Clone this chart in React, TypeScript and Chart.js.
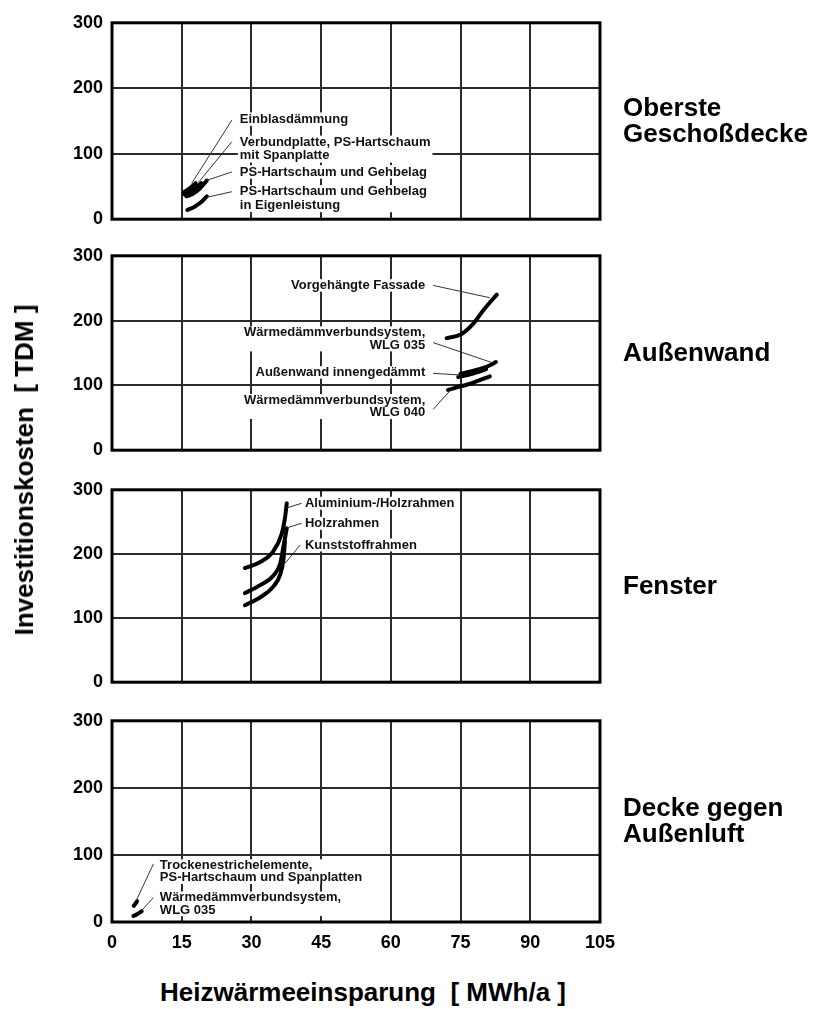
import React, { useEffect, useRef } from 'react';
import { Chart, registerables } from 'chart.js';

Chart.register(...registerables);

const FONT = '"Liberation Sans", Arial, Helvetica, sans-serif';

// ---------- axes ----------
const X_TICKS = [0, 15, 30, 45, 60, 75, 90, 105];
const Y_TICKS = [0, 100, 200, 300];
const X_TITLE = 'Heizwärmeeinsparung  [ MWh/a ]';
const Y_TITLE = 'Investitionskosten  [ TDM ]';

// ---------- panel names ----------
const P1_NAME = ['Oberste', 'Geschoßdecke'];
const P2_NAME = ['Außenwand'];
const P3_NAME = ['Fenster'];
const P4_NAME = ['Decke gegen', 'Außenluft'];

// ---------- panel 1: Oberste Geschoßdecke ----------
const EINBLAS_X = [15.4, 16.3, 17.2, 18.0];
const EINBLAS_Y = [41, 45, 50, 55];
const VERBUND_X = [15.6, 16.8, 18.0, 19.2];
const VERBUND_Y = [38, 42, 48, 55];
const PS_GEHBELAG_X = [16.0, 17.4, 18.9, 20.4];
const PS_GEHBELAG_Y = [35, 39, 47, 59];
const PS_EIGEN_X = [16.2, 17.5, 19.0, 20.4];
const PS_EIGEN_Y = [14, 18, 25, 35];

// ---------- panel 2: Außenwand ----------
const VORGEH_X = [72.0, 74.9, 77.7, 79.9, 82.8];
const VORGEH_Y = [173, 178, 195, 216, 240];
const WDVS035_X = [75.0, 77.0, 79.0, 81.0, 82.6];
const WDVS035_Y = [118, 121, 125, 130, 136];
const INNEN_X = [74.5, 76.5, 78.5, 80.5];
const INNEN_Y = [113, 116, 120, 125];
const WDVS040_X = [72.3, 74.2, 76.3, 78.7, 81.3];
const WDVS040_Y = [93, 97, 101, 107, 114];

// ---------- panel 3: Fenster ----------
const ALU_X = [28.6, 31.8, 34.7, 36.5, 37.2, 37.6];
const ALU_Y = [178, 187, 204, 231, 255, 279];
const HOLZ_X = [28.6, 31.8, 34.7, 36.2, 36.9, 37.6];
const HOLZ_Y = [139, 151, 166, 185, 212, 240];
const KUNST_X = [28.6, 31.8, 34.7, 36.2, 36.9, 37.2];
const KUNST_Y = [120, 132, 149, 168, 192, 219];

// ---------- panel 4: Decke gegen Außenluft ----------
const TROCKEN_X = [4.7, 5.0, 5.4];
const TROCKEN_Y = [24, 27, 31];
const WDVS035B_X = [4.6, 5.5, 6.4];
const WDVS035B_Y = [9, 12, 16];

const pts = (xs: number[], ys: number[]) => xs.map((x, i) => ({ x, y: ys[i] }));

type Annot = {
  lines: string[];
  at: [number, number];
  align: 'left' | 'right';
  from: [number, number];
  to: [number, number];
};

const PANELS = [
  {
    name: P1_NAME,
    top: 15,
    bottom: 227,
    series: [pts(EINBLAS_X, EINBLAS_Y), pts(VERBUND_X, VERBUND_Y), pts(PS_GEHBELAG_X, PS_GEHBELAG_Y), pts(PS_EIGEN_X, PS_EIGEN_Y)],
    lh: 13.5,
    annots: [
      { lines: ['Einblasdämmung'], at: [27.5, 152.8], align: 'left', from: [25.8, 151.4], to: [17.15, 54.8] },
      { lines: ['Verbundplatte, PS-Hartschaum', 'mit Spanplatte'], at: [27.5, 117.4], align: 'left', from: [25.8, 118.4], to: [18.6, 56.2] },
      { lines: ['PS-Hartschaum und Gehbelag'], at: [27.5, 72.2], align: 'left', from: [25.8, 72.2], to: [20.4, 59.4] },
      { lines: ['PS-Hartschaum und Gehbelag', 'in Eigenleistung'], at: [27.5, 41.7], align: 'left', from: [25.8, 42], to: [20.4, 33.5] },
    ] as Annot[],
  },
  {
    name: P2_NAME,
    top: 248,
    bottom: 458,
    series: [pts(VORGEH_X, VORGEH_Y), pts(WDVS035_X, WDVS035_Y), pts(INNEN_X, INNEN_Y), pts(WDVS040_X, WDVS040_Y)],
    lh: 12.5,
    annots: [
      { lines: ['Vorgehängte Fassade'], at: [67.4, 254.3], align: 'right', from: [69.1, 254.3], to: [81.3, 235.3] },
      { lines: ['Wärmedämmverbundsystem,', 'WLG 035'], at: [67.4, 181.4], align: 'right', from: [69.1, 166.1], to: [81.7, 135.3] },
      { lines: ['Außenwand innengedämmt'], at: [67.4, 120], align: 'right', from: [69.1, 118.6], to: [74.9, 116.1] },
      { lines: ['Wärmedämmverbundsystem,', 'WLG 040'], at: [67.4, 77.1], align: 'right', from: [69.1, 62.9], to: [73.1, 94.7] },
    ] as Annot[],
  },
  {
    name: P3_NAME,
    top: 482,
    bottom: 690,
    series: [pts(ALU_X, ALU_Y), pts(HOLZ_X, HOLZ_Y), pts(KUNST_X, KUNST_Y)],
    lh: 13,
    annots: [
      { lines: ['Aluminium-/Holzrahmen'], at: [41.5, 279], align: 'left', from: [40.8, 279], to: [37.6, 271.7] },
      { lines: ['Holzrahmen'], at: [41.5, 247.8], align: 'left', from: [40.8, 247.8], to: [37.6, 240.5] },
      { lines: ['Kunststoffrahmen'], at: [41.5, 214], align: 'left', from: [40.5, 214], to: [37.2, 185.1] },
    ] as Annot[],
  },
  {
    name: P4_NAME,
    top: 713,
    bottom: 922,
    series: [pts(TROCKEN_X, TROCKEN_Y), pts(WDVS035B_X, WDVS035B_Y)],
    lh: 12.3,
    annots: [
      { lines: ['Trockenestrichelemente,', 'PS-Hartschaum und Spanplatten'], at: [10.3, 84.2], align: 'left', from: [8.9, 86.5], to: [5.2, 31.6] },
      { lines: ['Wärmedämmverbundsystem,', 'WLG 035'], at: [10.3, 36.3], align: 'left', from: [8.9, 36.3], to: [6.4, 17.2] },
    ] as Annot[],
  },
];

const PAD_TOP = 12;
const PAD_BOTTOM = 12;
const X_AXIS_H = 50;
const PLOT_LEFT = 112;
const PLOT_RIGHT = 600;
const W = 814;

const panelPlugin = {
  id: 'panelDecor',
  afterDatasetsDraw(chart: any, _args: any, opts: any) {
    const { ctx, chartArea, scales } = chart;
    const xs = scales.x;
    const ys = scales.y;
    const annots: Annot[] = opts.annots || [];
    const lh: number = opts.lh || 13;
    ctx.save();
    ctx.font = `bold 13px ${FONT}`;
    ctx.textBaseline = 'middle';
    // white boxes
    const boxes = annots.map((a) => {
      const px = xs.getPixelForValue(a.at[0]);
      const py = ys.getPixelForValue(a.at[1]);
      const w = Math.max(...a.lines.map((l) => ctx.measureText(l).width));
      const left = a.align === 'left' ? px : px - w;
      return { a, px, py, w, left };
    });
    ctx.fillStyle = '#fff';
    boxes.forEach((b) => ctx.fillRect(b.left - 2, b.py - lh / 2, b.w + 4, lh * b.a.lines.length));
    // leader lines
    ctx.strokeStyle = '#333';
    ctx.lineWidth = 1;
    annots.forEach((a) => {
      ctx.beginPath();
      ctx.moveTo(xs.getPixelForValue(a.from[0]), ys.getPixelForValue(a.from[1]));
      ctx.lineTo(xs.getPixelForValue(a.to[0]), ys.getPixelForValue(a.to[1]));
      ctx.stroke();
    });
    // text
    ctx.fillStyle = '#111';
    boxes.forEach((b) => {
      ctx.textAlign = b.a.align;
      b.a.lines.forEach((l, i) => ctx.fillText(l, b.px, b.py + i * lh));
    });
    // frame
    ctx.strokeStyle = '#000';
    ctx.lineWidth = 3;
    ctx.strokeRect(chartArea.left, chartArea.top, chartArea.right - chartArea.left, chartArea.bottom - chartArea.top);
    // panel name
    const name: string[] = opts.name || [];
    ctx.font = `bold 26px ${FONT}`;
    ctx.textAlign = 'left';
    ctx.textBaseline = 'alphabetic';
    ctx.fillStyle = '#000';
    const cy = (chartArea.top + chartArea.bottom) / 2;
    const spacing = 26;
    name.forEach((l, i) => {
      ctx.fillText(l, chartArea.right + 23, cy - ((name.length - 1) * spacing) / 2 + i * spacing + 8);
    });
    ctx.restore();
  },
};

function Panel({ cfg, last }: { cfg: (typeof PANELS)[number]; last: boolean }) {
  const ref = useRef<HTMLCanvasElement>(null);
  const plotH = cfg.bottom - cfg.top;
  const height = PAD_TOP + plotH + (last ? X_AXIS_H : PAD_BOTTOM);
  useEffect(() => {
    if (!ref.current) return;
    const chart = new Chart(ref.current, {
      type: 'scatter',
      data: {
        datasets: cfg.series.map((s) => ({
          data: s,
          showLine: true,
          borderColor: '#000',
          backgroundColor: '#000',
          borderWidth: 4,
          borderCapStyle: 'round',
          pointRadius: 0,
          cubicInterpolationMode: 'monotone',
        })),
      },
      options: {
        animation: false,
        responsive: false,
        devicePixelRatio: 1,
        layout: {
          padding: { left: 0, right: W - PLOT_RIGHT, top: PAD_TOP, bottom: last ? 0 : PAD_BOTTOM },
        },
        plugins: {
          legend: { display: false },
          tooltip: { enabled: false },
          panelDecor: { annots: cfg.annots, lh: cfg.lh, name: cfg.name },
        } as any,
        scales: {
          x: {
            type: 'linear',
            min: 0,
            max: 105,
            afterBuildTicks: (s: any) => {
              s.ticks = X_TICKS.map((v) => ({ value: v }));
            },
            afterFit: (s: any) => {
              s.height = last ? X_AXIS_H : 0;
            },
            grid: { color: '#2a2a2a', lineWidth: 2, drawTicks: false },
            border: { display: false },
            ticks: {
              display: last,
              color: '#000',
              padding: 10,
              font: { family: FONT, size: 18, weight: 'bold' },
            },
          },
          y: {
            type: 'linear',
            min: 0,
            max: 300,
            afterBuildTicks: (s: any) => {
              s.ticks = Y_TICKS.map((v) => ({ value: v }));
            },
            afterFit: (s: any) => {
              s.width = PLOT_LEFT;
            },
            grid: { color: '#2a2a2a', lineWidth: 2, drawTicks: false },
            border: { display: false },
            ticks: {
              color: '#000',
              padding: 9,
              font: { family: FONT, size: 18, weight: 'bold' },
            },
          },
        },
      } as any,
      plugins: [panelPlugin],
    });
    return () => chart.destroy();
  }, []);
  return (
    <canvas
      ref={ref}
      width={W}
      height={height}
      style={{ position: 'absolute', left: 0, top: cfg.top - PAD_TOP, width: W, height }}
    />
  );
}

export default function App() {
  return (
    <div
      style={{
        position: 'absolute',
        left: 0,
        top: 0,
        width: W,
        height: 1009,
        overflow: 'hidden',
        background: '#fff',
        fontFamily: FONT,
      }}
    >
      {PANELS.map((p, i) => (
        <Panel key={i} cfg={p} last={i === PANELS.length - 1} />
      ))}
      <div
        style={{
          position: 'absolute',
          left: 24,
          top: 470,
          transform: 'translate(-50%, -50%) rotate(-90deg)',
          whiteSpace: 'pre',
          fontWeight: 'bold',
          fontSize: 26,
          lineHeight: '26px',
          color: '#000',
        }}
      >
        {Y_TITLE}
      </div>
      <div
        style={{
          position: 'absolute',
          left: 363,
          top: 979,
          transform: 'translateX(-50%)',
          whiteSpace: 'pre',
          fontWeight: 'bold',
          fontSize: 26,
          lineHeight: '26px',
          color: '#000',
        }}
      >
        {X_TITLE}
      </div>
    </div>
  );
}
